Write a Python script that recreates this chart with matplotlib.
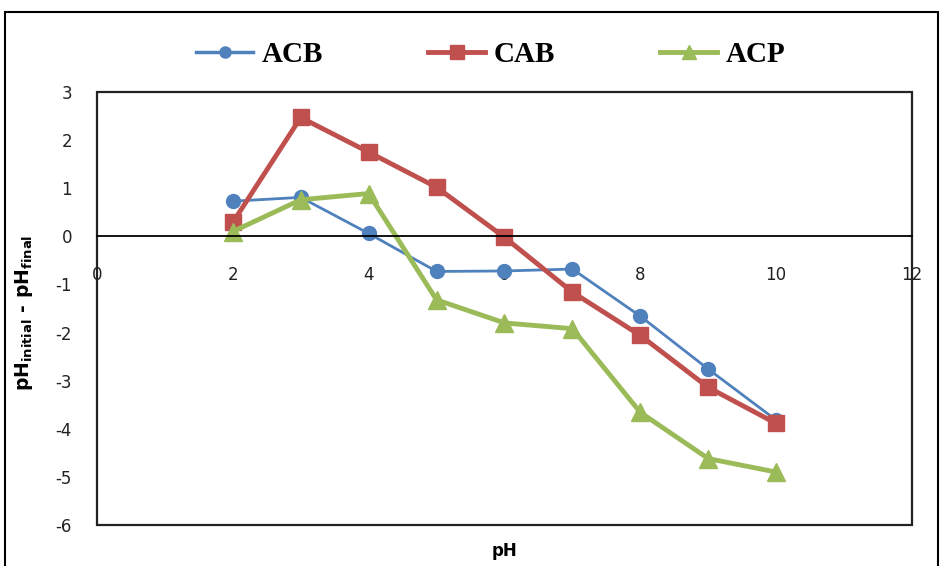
import matplotlib.pyplot as plt
from matplotlib.lines import Line2D
from matplotlib.patches import Rectangle

# data
ph = [2, 3, 4, 5, 6, 7, 8, 9, 10]
acb = [0.73, 0.81, 0.06, -0.73, -0.72, -0.68, -1.66, -2.76, -3.82]
cab = [0.29, 2.47, 1.75, 1.02, -0.02, -1.16, -2.06, -3.14, -3.89]
acp = [0.10, 0.76, 0.89, -1.32, -1.80, -1.92, -3.66, -4.62, -4.90]
series_names = ["ACB", "CAB", "ACP"]

blue = '#4F81BD'
red = '#C0504D'
green = '#9BBB59'

plt.rcParams['axes.unicode_minus'] = False

fig = plt.figure(figsize=(9.4, 5.66), dpi=100)
ax = fig.add_axes([97 / 940, 1 - 525 / 566, 815 / 940, 433 / 566])

ax.plot(ph, acb, color=blue, lw=2, marker='o', ms=10, label=series_names[0])
ax.plot(ph, cab, color=red, lw=3.5, marker='s', ms=12, label=series_names[1])
ax.plot(ph, acp, color=green, lw=3.5, marker='^', ms=13, label=series_names[2])

ax.set_xlim(0, 12)
ax.set_ylim(-6, 3)
ax.set_xticks(range(0, 13, 2))
ax.set_yticks(range(-6, 4))

# x axis sits at y = 0, box drawn separately
for s in ['top', 'right', 'left']:
    ax.spines[s].set_visible(False)
ax.spines['bottom'].set_position(('data', 0))
ax.spines['bottom'].set_linewidth(1.3)
ax.add_patch(Rectangle((0, 0), 1, 1, transform=ax.transAxes, fill=False,
                       lw=1.6, edgecolor='#222222', clip_on=False, zorder=0))

ax.tick_params(axis='both', length=0, labelsize=12, colors='#222222')
ax.tick_params(axis='x', pad=21)
ax.tick_params(axis='y', pad=18)

ax.set_xlabel('pH', fontsize=12, fontweight='bold')
ax.xaxis.set_label_coords(0.5, -0.04)
ax.set_ylabel(r'$\mathbf{pH_{initial}}$ - $\mathbf{pH_{final}}$', fontsize=13.5, fontweight='bold')
ax.yaxis.set_label_coords(-0.076, 0.49)

handles = [Line2D([0], [0], color=blue, lw=2.5, marker='o', ms=8),
           Line2D([0], [0], color=red, lw=3.5, marker='s', ms=10),
           Line2D([0], [0], color=green, lw=3.5, marker='^', ms=10)]
fig.legend(handles, series_names, loc='center', bbox_to_anchor=(491 / 940, 1 - 55 / 566),
           ncol=3, frameon=False, columnspacing=3.6, handlelength=1.95, handletextpad=0.3,
           prop={'family': 'Liberation Serif', 'weight': 'bold', 'size': 21})

# outer frame
fig.add_artist(Rectangle((5 / 940, -0.05), 933 / 940, 1.05 - 12 / 566,
                         transform=fig.transFigure, fill=False, lw=1.5, edgecolor='black'))

fig.savefig('out.png', dpi=100)
